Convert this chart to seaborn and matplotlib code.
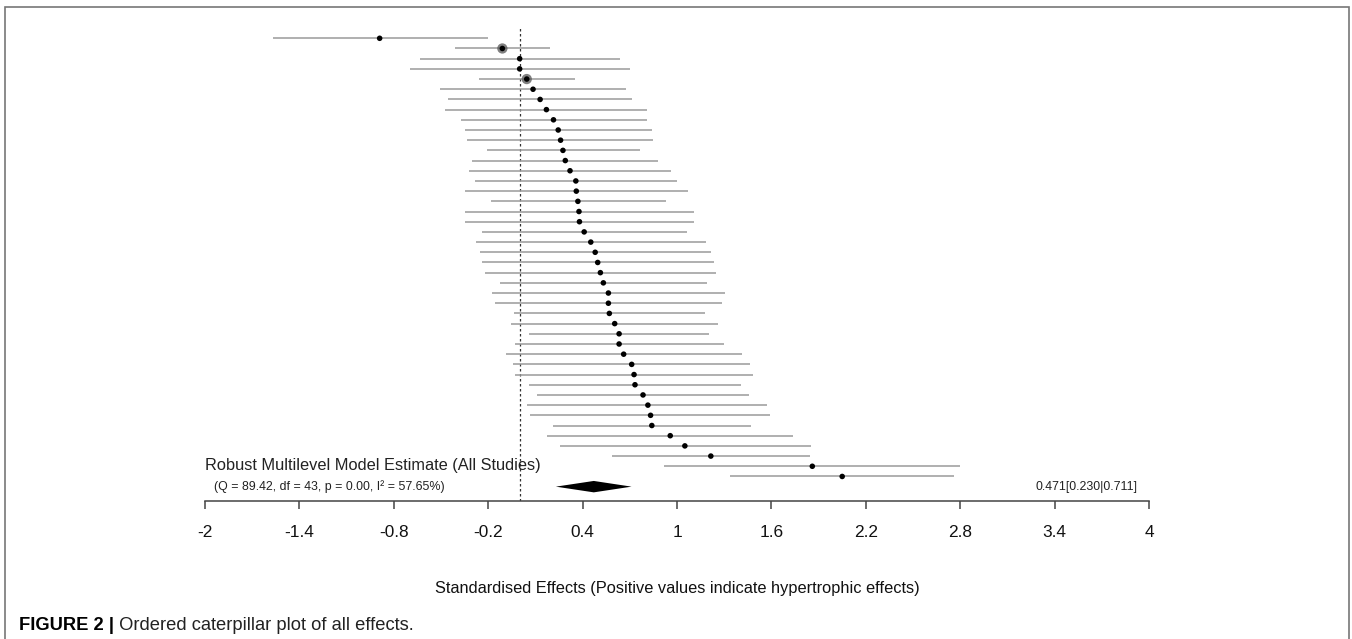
import matplotlib
matplotlib.use("Agg")
import matplotlib.pyplot as plt
from matplotlib.patches import Rectangle
import numpy as np
import pandas as pd
import seaborn as sns

# ---------------- data ----------------
study_rank = list(range(1, 45))
effect = [-0.89, -0.11, 0.00, 0.00, 0.045, 0.085, 0.13, 0.17, 0.215, 0.245,
          0.26, 0.275, 0.29, 0.32, 0.357, 0.36, 0.37, 0.377, 0.38, 0.41,
          0.452, 0.48, 0.496, 0.513, 0.532, 0.564, 0.564, 0.57, 0.604, 0.632,
          0.632, 0.661, 0.712, 0.727, 0.733, 0.784, 0.815, 0.832, 0.84, 0.957,
          1.05, 1.215, 1.86, 2.05]
ci_lower = [-1.57, -0.414, -0.632, -0.695, -0.258, -0.505, -0.456, -0.473, -0.374, -0.346,
            -0.332, -0.207, -0.30, -0.32, -0.285, -0.346, -0.184, -0.346, -0.346, -0.239,
            -0.277, -0.251, -0.237, -0.220, -0.123, -0.173, -0.156, -0.038, -0.053, 0.061,
            -0.032, -0.084, -0.040, -0.027, 0.059, 0.112, 0.047, 0.064, 0.21, 0.176,
            0.256, 0.59, 0.92, 1.34]
ci_upper = [-0.199, 0.192, 0.636, 0.699, 0.349, 0.674, 0.716, 0.809, 0.811, 0.841,
            0.847, 0.763, 0.877, 0.962, 1.002, 1.067, 0.927, 1.105, 1.107, 1.063,
            1.183, 1.215, 1.232, 1.251, 1.191, 1.303, 1.286, 1.177, 1.263, 1.202,
            1.297, 1.411, 1.466, 1.481, 1.407, 1.460, 1.573, 1.593, 1.47, 1.74,
            1.85, 1.845, 2.80, 2.76]
halo_rows = [2, 5]

pooled_estimate = 0.471
pooled_lower = 0.230
pooled_upper = 0.711

x_ticks = [-2, -1.4, -0.8, -0.2, 0.4, 1, 1.6, 2.2, 2.8, 3.4, 4]
x_tick_labels = ["-2", "-1.4", "-0.8", "-0.2", "0.4", "1", "1.6", "2.2", "2.8", "3.4", "4"]

model_label = "Robust Multilevel Model Estimate (All Studies)"
stats_label = "(Q = 89.42, df = 43, p = 0.00, I\u00b2 = 57.65%)"
x_label = "Standardised Effects (Positive values indicate hypertrophic effects)"
caption_bold = "FIGURE 2 |"
caption_text = " Ordered caterpillar plot of all effects."

df = pd.DataFrame({"rank": study_rank, "effect": effect,
                   "lower": ci_lower, "upper": ci_upper})

# ---------------- style ----------------
sns.set_theme(style="white")
plt.rcParams["font.family"] = ["Liberation Sans", "DejaVu Sans"]

W, H = 1352, 639
fig = plt.figure(figsize=(W / 100, H / 100), dpi=100)
fig.patch.set_facecolor("white")

ax_left, ax_right = 205, 1149
ax_top, ax_bot = 28.1, 501
ax = fig.add_axes([ax_left / W, 1 - ax_bot / H, (ax_right - ax_left) / W, (ax_bot - ax_top) / H])
ax.set_facecolor("white")

n_rows = len(study_rank)
row_h = 10.19
y_bottom = (ax_bot - ax_top) / row_h
pooled_row = n_rows + 1

# CI lines
ax.hlines(df["rank"], df["lower"], df["upper"], color="#9a9a9a", lw=1.1, zorder=1)

# halos
halo_df = df[df["rank"].isin(halo_rows)]
sns.scatterplot(data=halo_df, x="effect", y="rank", color="#555555", s=55,
                edgecolor="none", alpha=0.75, ax=ax, zorder=2, legend=False)
# points
sns.scatterplot(data=df, x="effect", y="rank", color="black", s=16,
                edgecolor="none", ax=ax, zorder=3, legend=False)

# reference line at zero
ax.axvline(0, color="#333333", lw=0.9, ls=(0, (2, 2)), zorder=0)

# pooled diamond
dh = 0.56
ax.fill([pooled_lower, pooled_estimate, pooled_upper, pooled_estimate],
        [pooled_row, pooled_row - dh, pooled_row, pooled_row + dh],
        color="black", lw=0, zorder=3)

ax.set_xlim(x_ticks[0], x_ticks[-1])
ax.set_ylim(y_bottom, 0)

ax.set_xticks(x_ticks)
ax.set_xticklabels(x_tick_labels, fontsize=12.4, color="#111111")
ax.set_yticks([])
ax.set_ylabel("")
for s in ["top", "right", "left"]:
    ax.spines[s].set_visible(False)
ax.spines["bottom"].set_color("#444444")
ax.spines["bottom"].set_linewidth(1.1)
ax.spines["bottom"].set_bounds(x_ticks[0], x_ticks[-1])
ax.tick_params(axis="x", direction="out", length=6, width=1.1, color="#444444",
               pad=11.5, bottom=True)

ax.set_xlabel(x_label, fontsize=11.8, color="#111111")
ax.xaxis.set_label_coords(0.5, (ax_bot - 588) / (ax_bot - ax_top))
ax.xaxis.label.set_va("center")

# annotations
ax.text(x_ticks[0], (465.7 - ax_top) / row_h, model_label, fontsize=11.8,
        ha="left", va="center", color="#222222")
ax.text(x_ticks[0] + 9 / 157.8, pooled_row, stats_label, fontsize=8.9,
        ha="left", va="center", color="#222222")
ax.text(x_ticks[-1] - 12 / 157.8, pooled_row, f"{pooled_estimate:.3f}[{pooled_lower:.3f}|{pooled_upper:.3f}]",
        fontsize=8.9, ha="right", va="center", color="#222222")

# caption
cy = 1 - 625 / H
t1 = fig.text(19 / W, cy, caption_bold, fontsize=13.2, fontweight="bold", ha="left", va="center", color="black")
fig.canvas.draw()
bb = t1.get_window_extent(renderer=fig.canvas.get_renderer())
fig.text(bb.x1 / W, cy, caption_text, fontsize=13.2, ha="left", va="center", color="#222222")

# frame around figure
fig.patches.append(Rectangle((4.5 / W, -0.02), (1349 - 4.5) / W, 1 - 6.7 / H + 0.02,
                             transform=fig.transFigure, fill=False, ec="#777777", lw=1.2))

fig.savefig("out.png", dpi=100, facecolor="white")
